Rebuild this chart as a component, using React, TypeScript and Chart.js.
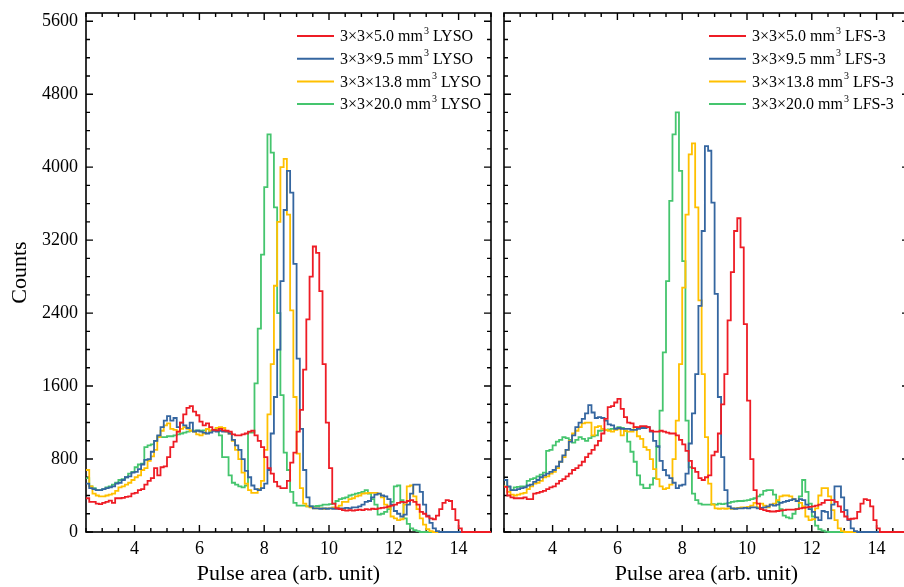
import React, { useEffect, useRef } from 'react';
import { Chart, registerables } from 'chart.js';

Chart.register(...registerables);

// ---------- data ----------
const BIN_START = 2.5;
const BIN_WIDTH = 0.1;
const X_MIN = 2.5;
const X_MAX = 15;
const Y_MIN = 0;
const Y_MAX = 5690;
const xTickValues = [4, 6, 8, 10, 12, 14];
const yTickValues = [0, 800, 1600, 2400, 3200, 4000, 4800, 5600];

const lysoLabels = [
  '3×3×5.0 mm³ LYSO',
  '3×3×9.5 mm³ LYSO',
  '3×3×13.8 mm³ LYSO',
  '3×3×20.0 mm³ LYSO',
];
const lfsLabels = [
  '3×3×5.0 mm³ LFS-3',
  '3×3×9.5 mm³ LFS-3',
  '3×3×13.8 mm³ LFS-3',
  '3×3×20.0 mm³ LFS-3',
];
const seriesColors = ['#EE1C25', '#3566A0', '#FFC000', '#45C56E'];

// counts per bin, bins start at 2.5 with width 0.1 (2.5 ... 14.9)
const lysoRed = [
  370, 330, 330, 310, 305, 320, 330, 345, 320, 370,
  370, 375, 385, 390, 420, 430, 460, 470, 520, 560,
  590, 700, 620, 710, 720, 820, 930, 990, 1100, 1200,
  1290, 1360, 1380, 1320, 1280, 1210, 1170, 1190, 1150, 1120,
  1115, 1130, 1115, 1110, 1100, 1070, 1060, 1060, 1070, 1080,
  1100, 1110, 1060, 1000, 930, 820, 700, 640, 550, 500,
  480, 480, 560, 760, 870, 1100, 1340, 1780, 2330, 2800,
  3130, 3060, 2640, 1840, 1200, 700, 310, 260, 250, 240,
  235, 240, 235, 240, 245, 240, 250, 245, 255, 250,
  260, 265, 270, 280, 290, 300, 320, 330, 325, 340,
  350, 330, 300, 220, 200, 170, 150, 140, 180, 250,
  320, 350, 340, 250, 130, 40, 0, 0, 0, 0,
  0, 0, 0, 0, 0,
];
const lysoBlue = [
  530, 480, 470, 460, 460, 470, 480, 490, 500, 530,
  540, 570, 600, 610, 650, 660, 690, 740, 790, 800,
  880, 1000, 1060, 1150, 1220, 1270, 1220, 1250, 1150, 1200,
  1170, 1140, 1200, 1100, 1110, 1100, 1090, 1080, 1090, 1110,
  1100, 1110, 1100, 1100, 1080, 1010, 950, 900, 800, 670,
  600, 510, 470, 460, 480, 530, 680, 1080, 1480, 2000,
  2750, 3530, 3960, 3720, 2940, 1900, 1130, 680, 380, 280,
  260, 260, 255, 260, 255, 260, 255, 255, 260, 260,
  265, 260, 270, 270, 280, 300, 330, 340, 380, 410,
  420, 400, 390, 360, 300, 230, 200, 170, 190, 300,
  420, 520, 520, 440, 300, 180, 100, 40, 10, 0,
  0, 0, 0, 0, 0, 0, 0, 0, 0, 0,
  0, 0, 0, 0, 0,
];
const lysoYellow = [
  680, 500, 420, 400, 390, 390, 400, 410, 420, 450,
  490, 500, 520, 540, 570, 600, 620, 680, 700, 780,
  830, 900, 1040, 1110, 1170, 1190, 1130, 1120, 1100, 1130,
  1150, 1130, 1110, 1100, 1070, 1060, 1080, 1130, 1110, 1120,
  1140, 1150, 1140, 1100, 1080, 1000, 900, 800, 650, 530,
  460, 430, 430, 470, 560, 900, 1290, 1840, 2700, 3400,
  4000, 4090, 3480, 2430, 1480, 860, 480, 310, 280, 270,
  260, 260, 260, 255, 260, 260, 270, 270, 290, 330,
  330, 360, 370, 390, 400, 420, 425, 430, 430, 430,
  420, 380, 300, 270, 170, 150, 130, 140, 300, 500,
  510, 390, 250, 150, 80, 30, 10, 0, 0, 0,
  0, 0, 0, 0, 0, 0, 0, 0, 0, 0,
  0, 0, 0, 0, 0,
];
const lysoGreen = [
  590, 500, 480, 460, 460, 470, 490, 500, 520, 540,
  570, 580, 600, 640, 660, 710, 740, 750, 930, 950,
  960, 1000, 1050, 1040, 1040, 1050, 1050, 1060, 1070, 1080,
  1090, 1100, 1110, 1110, 1115, 1110, 1115, 1130, 1110, 1120,
  1130, 1060, 820, 820, 620, 540, 520, 500, 490, 510,
  1090, 1090, 1630, 2230, 3040, 3780, 4360, 4160, 3560, 2400,
  1500, 870, 680, 440, 320, 290, 290, 290, 280, 280,
  280, 285, 290, 300, 300, 305, 310, 340, 360, 370,
  380, 400, 410, 420, 430, 440, 460, 420, 360, 300,
  190, 200, 220, 250, 330, 500, 510, 350, 150, 90,
  40, 20, 10, 0, 0, 0, 0, 0, 0, 0,
  0, 0, 0, 0, 0, 0, 0, 0, 0, 0,
  0, 0, 0, 0, 0,
];

const lfsRed = [
  495, 400, 380, 370, 370, 370, 380, 360, 360, 420,
  430, 440, 450, 470, 490, 500, 530, 560, 580, 610,
  640, 680, 700, 730, 770, 820, 860, 900, 950, 1000,
  1080, 1240, 1370, 1380, 1420, 1460, 1350, 1260, 1200, 1190,
  1150, 1150, 1160, 1160, 1150, 1110, 1100, 1100, 1110, 1100,
  1090, 1080, 1080, 1060, 1010, 960, 890, 780, 700, 660,
  590, 570, 600, 620, 840, 880, 1080, 1400, 1730, 2320,
  2850, 3300, 3440, 3120, 2280, 1440, 800, 460, 310, 250,
  240, 230, 225, 225, 230, 235, 240, 245, 245, 245,
  250, 260, 265, 270, 275, 280, 290, 300, 320, 350,
  350, 350, 330, 280, 220, 170, 140, 145, 150, 220,
  310, 360, 350, 280, 130, 40, 0, 0, 0, 0,
  0, 0, 0, 0, 0,
];
const lfsBlue = [
  570, 500, 460, 460, 470, 480, 490, 510, 520, 550,
  570, 600, 620, 640, 660, 680, 720, 770, 840, 900,
  990, 1060, 1150, 1200, 1240, 1300, 1390, 1310, 1250, 1260,
  1250, 1220, 1180, 1170, 1130, 1140, 1130, 1130, 1130, 1120,
  1120, 1130, 1140, 1140, 1150, 1100, 1000, 940, 780, 680,
  620, 590, 540, 480, 510, 520, 640, 970, 1300, 1730,
  2480, 3300, 4230, 4180, 3610, 2610, 1480, 820, 460, 280,
  260, 255, 260, 260, 265, 260, 270, 270, 260, 265,
  270, 280, 300, 290, 300, 320, 330, 340, 350, 360,
  340, 360, 350, 300, 250, 220, 160, 130, 230, 220,
  150, 300, 500, 500, 380, 240, 130, 40, 10, 0,
  0, 0, 0, 0, 0, 0, 0, 0, 0, 0,
  0, 0, 0, 0, 0,
];
const lfsYellow = [
  500, 440, 410, 400, 410, 420, 430, 470, 500, 530,
  540, 560, 600, 610, 640, 660, 700, 770, 820, 900,
  1000, 1080, 1110, 1150, 1190, 1200, 1200, 1060, 1150, 1160,
  1130, 1120, 1110, 1100, 1120, 1130, 1060, 1110, 1100, 1100,
  1150, 1050, 1020, 930, 900, 800, 690, 580, 500, 470,
  480, 520, 800, 1220, 1840, 2680, 3480, 4140, 4260, 3560,
  2540, 1730, 1040, 530, 300, 260, 255, 260, 255, 260,
  255, 260, 265, 270, 270, 275, 290, 320, 270, 310,
  290, 270, 300, 310, 350, 390, 400, 400, 390, 360,
  340, 320, 280, 170, 130, 140, 260, 400, 480, 480,
  390, 240, 130, 40, 10, 0, 0, 0, 0, 0,
  0, 0, 0, 0, 0, 0, 0, 0, 0, 0,
  0, 0, 0, 0, 0,
];
const lfsGreen = [
  570, 495, 460, 490, 495, 500, 500, 560, 580, 590,
  610, 630, 650, 890, 900, 950, 990, 1010, 1040, 1030,
  1010, 980, 1010, 1040, 1020, 1000, 1030, 1050, 1060, 1110,
  1115, 1120, 1125, 1130, 1135, 1150, 1140, 1110, 990, 880,
  770, 620, 520, 480, 480, 520, 590, 930, 1330, 1970,
  2750, 3630, 4360, 4600, 3960, 2970, 1220, 710, 420, 350,
  310, 300, 300, 300, 305, 300, 310, 305, 310, 320,
  330, 335, 340, 340, 345, 350, 360, 370, 390, 410,
  450, 460, 460, 410, 330, 250, 180, 160, 150, 200,
  250, 390, 570, 440, 310, 170, 70, 30, 15, 5,
  0, 0, 0, 0, 0, 0, 0, 0, 0, 0,
  0, 0, 0, 0, 0, 0, 0, 0, 0, 0,
  0, 0, 0, 0, 0,
];

const lysoSeries = [lysoRed, lysoBlue, lysoYellow, lysoGreen];
const lfsSeries = [lfsRed, lfsBlue, lfsYellow, lfsGreen];

// ---------- styling ----------
const SERIF = "'Liberation Serif', 'Times New Roman', serif";
const CANVAS_H = 587;

function toPoints(values: number[]) {
  const pts = values.map((y, i) => ({ x: +(BIN_START + i * BIN_WIDTH).toFixed(2), y }));
  pts.push({ x: +(BIN_START + values.length * BIN_WIDTH).toFixed(2), y: values[values.length - 1] });
  return pts;
}

const frameTicksPlugin = {
  id: 'frameTicks',
  beforeDatasetsDraw(chart: any) {
    const { ctx, chartArea } = chart;
    const { left, right, top, bottom } = chartArea;
    const xs = chart.scales.x;
    const ys = chart.scales.y;
    ctx.save();
    ctx.strokeStyle = '#000';
    ctx.lineWidth = 1.6;
    ctx.strokeRect(left, top, right - left, bottom - top);
    ctx.lineWidth = 1.4;
    ctx.beginPath();
    for (let v = X_MIN; v <= X_MAX + 1e-9; v += 0.5) {
      const px = xs.getPixelForValue(v);
      const major = Math.abs(v / 2 - Math.round(v / 2)) < 1e-6;
      const len = major ? 7 : 4;
      ctx.moveTo(px, bottom);
      ctx.lineTo(px, bottom - len);
      ctx.moveTo(px, top);
      ctx.lineTo(px, top + len);
    }
    for (let v = Y_MIN; v <= Y_MAX; v += 200) {
      const py = ys.getPixelForValue(v);
      const major = v % 800 === 0;
      const len = major ? 7 : 4;
      ctx.moveTo(left, py);
      ctx.lineTo(left + len, py);
      ctx.moveTo(right, py);
      ctx.lineTo(right - len, py);
    }
    ctx.stroke();
    ctx.restore();
  },
};

const innerLegendPlugin = {
  id: 'innerLegend',
  afterDatasetsDraw(chart: any, _args: any, opts: any) {
    const { ctx, chartArea } = chart;
    const x0 = chartArea.left + opts.dx;
    let y = chartArea.top + opts.dy;
    ctx.save();
    chart.data.datasets.forEach((ds: any) => {
      ctx.strokeStyle = ds.borderColor;
      ctx.lineWidth = 2;
      ctx.beginPath();
      ctx.moveTo(x0, y);
      ctx.lineTo(x0 + opts.lineLen, y);
      ctx.stroke();
      const parts = String(ds.label).split('³');
      let tx = x0 + opts.lineLen + opts.gap;
      ctx.fillStyle = '#000';
      ctx.textBaseline = 'middle';
      ctx.textAlign = 'left';
      ctx.font = `${opts.fontSize}px ${SERIF}`;
      ctx.fillText(parts[0], tx, y + 1);
      tx += ctx.measureText(parts[0]).width + 1;
      ctx.font = `${opts.supSize}px ${SERIF}`;
      ctx.fillText('3', tx, y - 5);
      tx += ctx.measureText('3').width;
      ctx.font = `${opts.fontSize}px ${SERIF}`;
      ctx.fillText(parts[1] ?? '', tx, y + 1);
      y += opts.rowGap;
    });
    ctx.restore();
  },
};

function makeConfig(labels: string[], series: number[][], isLeft: boolean, padL: number, padR: number, legendDx: number) {
  return {
    type: 'line' as const,
    data: {
      datasets: series.map((vals, i) => ({
        label: labels[i],
        data: toPoints(vals),
        borderColor: seriesColors[i],
        backgroundColor: seriesColors[i],
        borderWidth: 1.8,
        stepped: true,
        pointRadius: 0,
        fill: false,
        clip: false as any,
      })),
    },
    options: {
      animation: false,
      responsive: false,
      maintainAspectRatio: false,
      events: [],
      layout: { padding: { left: padL, right: padR, top: 13, bottom: 0 } },
      plugins: {
        legend: { display: false },
        tooltip: { enabled: false },
        innerLegend: { dx: legendDx, dy: 23, rowGap: 22.7, lineLen: 37, gap: 6, fontSize: 16, supSize: 10 },
      },
      scales: {
        x: {
          type: 'linear',
          min: X_MIN,
          max: X_MAX,
          grid: { display: false, drawTicks: false },
          border: { display: false },
          afterBuildTicks: (s: any) => {
            s.ticks = xTickValues.map((v) => ({ value: v }));
          },
          afterFit: (s: any) => {
            s.height = 55;
            s.paddingLeft = 0;
            s.paddingRight = 0;
          },
          ticks: {
            color: '#000',
            font: { family: SERIF, size: 18 },
            padding: 6,
            maxRotation: 0,
            autoSkip: false,
            callback: (v: any) => String(v),
          },
          title: {
            display: true,
            text: 'Pulse area (arb. unit)',
            color: '#000',
            font: { family: SERIF, size: 22 },
            padding: { top: 0, bottom: 0 },
          },
        },
        y: {
          type: 'linear',
          min: Y_MIN,
          max: Y_MAX,
          display: isLeft,
          grid: { display: false, drawTicks: false },
          border: { display: false },
          afterBuildTicks: (s: any) => {
            s.ticks = yTickValues.map((v) => ({ value: v }));
          },
          afterFit: (s: any) => {
            s.width = isLeft ? 86 : 0;
            s.paddingTop = 0;
            s.paddingBottom = 0;
          },
          ticks: {
            color: '#000',
            font: { family: SERIF, size: 18 },
            padding: 8,
            autoSkip: false,
            callback: (v: any) => String(v),
          },
          title: {
            display: true,
            text: 'Counts',
            color: '#000',
            font: { family: SERIF, size: 22 },
            padding: { top: 7, bottom: 0 },
          },
        },
      },
    },
    plugins: [frameTicksPlugin, innerLegendPlugin],
  };
}

export default function App() {
  const leftRef = useRef<HTMLCanvasElement | null>(null);
  const rightRef = useRef<HTMLCanvasElement | null>(null);

  useEffect(() => {
    document.body.style.margin = '0';
    const left = new Chart(leftRef.current as HTMLCanvasElement, makeConfig(lysoLabels, lysoSeries, true, 0, 9, 211) as any);
    const right = new Chart(rightRef.current as HTMLCanvasElement, makeConfig(lfsLabels, lfsSeries, false, 9, 16, 205) as any);
    return () => {
      left.destroy();
      right.destroy();
    };
  }, []);

  return (
    <div style={{ position: 'fixed', left: 0, top: 0, width: 904, height: CANVAS_H, overflow: 'hidden', background: '#fff' }}>
      <canvas ref={leftRef} width={500} height={CANVAS_H} style={{ position: 'absolute', left: 0, top: 0, width: 500, height: CANVAS_H }} />
      <canvas ref={rightRef} width={430} height={CANVAS_H} style={{ position: 'absolute', left: 495, top: 0, width: 430, height: CANVAS_H }} />
    </div>
  );
}
